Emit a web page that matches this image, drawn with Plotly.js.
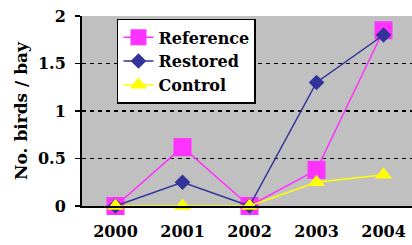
<!DOCTYPE html>
<html><head><meta charset="utf-8">
<script src="https://cdn.plot.ly/plotly-3.0.1.min.js"></script>
<style>html,body{margin:0;padding:0;background:#fff}#chart{width:412px;height:245px}</style>
</head><body><div id="chart"></div>
<script>
var years = ['2000','2001','2002','2003','2004'];
var reference = [0, 0.62, 0, 0.38, 1.85];
var restored = [0, 0.25, 0, 1.30, 1.80];
var control = [0, 0, 0, 0.25, 0.33];
var yTicks = [0, 0.5, 1, 1.5, 2];
var yTickText = ['0', '0.5', '1', '1.5', '2'];

var fontFam = 'DejaVu Serif';
var traces = [
  {x: years, y: reference, name: 'Reference', type: 'scatter', mode: 'lines+markers', cliponaxis: false,
   line: {color: '#ff33ff', width: 1.5}, marker: {symbol: 'square', size: 18, color: '#ff33ff'}},
  {x: years, y: restored, name: 'Restored', type: 'scatter', mode: 'lines+markers', cliponaxis: false,
   line: {color: '#333399', width: 1.5}, marker: {symbol: 'diamond', size: 12, color: '#333399'}},
  {x: years, y: control, name: 'Control', type: 'scatter', mode: 'lines+markers', cliponaxis: false,
   line: {color: '#ffff00', width: 1.5}, marker: {symbol: 'triangle-up', size: 15, color: '#ffff00'}}
];
var layout = {
  width: 412, height: 245,
  margin: {l: 82, r: 0, t: 16, b: 38.5},
  paper_bgcolor: '#ffffff', plot_bgcolor: '#c0c0c0',
  font: {family: fontFam, color: '#000', size: 16, weight: 'bold'},
  showlegend: true,
  legend: {x: 0.106, y: 0.985, xanchor: 'left', yanchor: 'top', bgcolor: '#ffffff',
    bordercolor: '#000', borderwidth: 1.5, font: {family: fontFam, size: 16, weight: 'bold'}},
  xaxis: {type: 'category', range: [-0.5, 4.425], showgrid: false, zeroline: false,
    showline: true, linecolor: '#000', linewidth: 2, ticks: '', ticklabelstandoff: 10, fixedrange: true,
    tickfont: {family: fontFam, size: 16, weight: 'bold'}},
  yaxis: {range: [0, 2], tickvals: yTicks, ticktext: yTickText, showgrid: true,
    gridcolor: '#000', gridwidth: 1.5, griddash: '4px,4px', zeroline: false,
    showline: true, linecolor: '#000', linewidth: 2, ticks: 'outside', ticklen: 5, tickcolor: '#000',
    tickwidth: 1.5, ticklabelstandoff: 6,
    tickfont: {family: fontFam, size: 16, weight: 'bold'},
    title: {text: 'No. birds / bay', standoff: 6, font: {family: fontFam, size: 17, weight: 'bold'}},
    fixedrange: true}
};
Plotly.newPlot('chart', traces, layout, {displayModeBar: false, staticPlot: true});
</script></body></html>
